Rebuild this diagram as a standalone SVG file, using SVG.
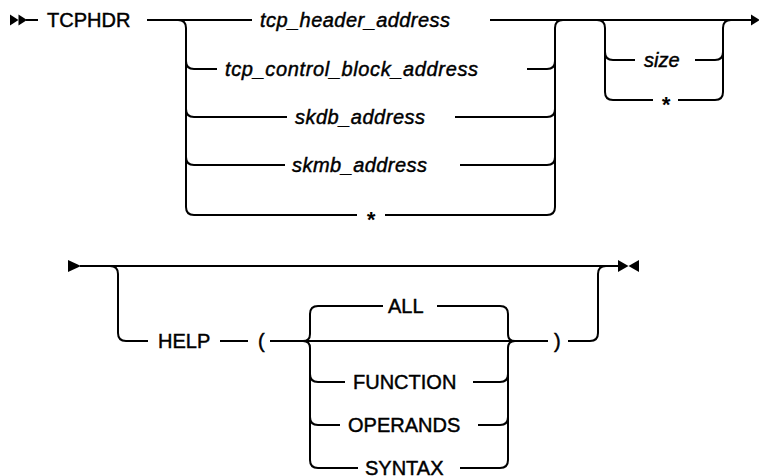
<svg xmlns="http://www.w3.org/2000/svg" width="759" height="476" viewBox="0 0 759 476">
<style>
  .ln { fill: none; stroke: #000; stroke-width: 2; }
  .mk { fill: #000; stroke: none; }
  text { font-family: "Liberation Sans", Arial, sans-serif; font-size: 20px; fill: #000; stroke: #000; stroke-width: 0.45; }
  .var { font-style: italic; }
  .star { font-size: 22px; font-weight: bold; stroke-width: 0; }
</style>
<rect width="759" height="476" fill="#fff"/>
<g id="connectors">
  <!-- top diagram -->
  <polygon class="mk" points="10,14.5 18.5,20 10,25.5"/>
  <polygon class="mk" points="18.5,14.5 27,20 18.5,25.5"/>
  <path class="ln" d="M26 20 H38"/>
  <path class="ln" d="M147 20 H252 M490 20 H752"/>
  <!-- group 1 left -->
  <path class="ln" d="M178 20 Q186 20 186 28 V207 Q186 215 194 215 H357"/>
  <path class="ln" d="M186 61 Q186 69 194 69 H217"/>
  <path class="ln" d="M186 109 Q186 117 194 117 H287"/>
  <path class="ln" d="M186 157 Q186 165 194 165 H285"/>
  <!-- group 1 right -->
  <path class="ln" d="M385 215 H547 Q555 215 555 207 V28 Q555 20 563 20"/>
  <path class="ln" d="M527 69 H547 Q555 69 555 61"/>
  <path class="ln" d="M455 117 H547 Q555 117 555 109"/>
  <path class="ln" d="M460 165 H547 Q555 165 555 157"/>
  <!-- group 2 -->
  <path class="ln" d="M597 20 Q605 20 605 28 V92 Q605 100 613 100 H653"/>
  <path class="ln" d="M605 52 Q605 60 613 60 H635"/>
  <path class="ln" d="M678 100 H715 Q723 100 723 92 V28 Q723 20 731 20"/>
  <path class="ln" d="M695 60 H715 Q723 60 723 52"/>
  <polygon class="mk" points="751,14.5 760,20 751,25.5"/>

  <!-- bottom diagram -->
  <polygon class="mk" points="68,260 81,266 68,272"/>
  <path class="ln" d="M80 266 H618"/>
  <polygon class="mk" points="618,260 628.5,266 618,272"/>
  <polygon class="mk" points="639,260 628.5,266 639,272"/>
  <path class="ln" d="M110 266 Q118 266 118 274 V333 Q118 341 126 341 H148"/>
  <path class="ln" d="M220 341 H248"/>
  <path class="ln" d="M270 341 H548"/>
  <path class="ln" d="M568 341 H590 Q598 341 598 333 V274 Q598 266 606 266"/>
  <!-- inner left brace -->
  <path class="ln" d="M303 341 Q310 341 310 334 V314 Q310 306 318 306 H383"/>
  <path class="ln" d="M303 341 Q310 341 310 348 V460 Q310 468 318 468 H358"/>
  <path class="ln" d="M310 374 Q310 382 318 382 H345"/>
  <path class="ln" d="M310 417 Q310 425 318 425 H340"/>
  <!-- inner right brace -->
  <path class="ln" d="M437 306 H500 Q508 306 508 314 V334 Q508 341 515 341"/>
  <path class="ln" d="M515 341 Q508 341 508 348 V460 Q508 468 500 468 H460"/>
  <path class="ln" d="M473 382 H500 Q508 382 508 374"/>
  <path class="ln" d="M478 425 H500 Q508 425 508 417"/>
</g>
<g id="node-tcphdr"><text x="47" y="27">TCPHDR</text></g>
<g id="node-tcp-header-address"><text class="var" x="260" y="27" textLength="190">tcp_header_address</text></g>
<g id="node-tcp-control-block-address"><text class="var" x="225" y="76" textLength="253">tcp_control_block_address</text></g>
<g id="node-skdb-address"><text class="var" x="295" y="124" textLength="130">skdb_address</text></g>
<g id="node-skmb-address"><text class="var" x="292" y="172" textLength="135">skmb_address</text></g>
<g id="node-star1"><text class="var star" x="366" y="227">*</text></g>
<g id="node-size"><text class="var" x="644" y="67">size</text></g>
<g id="node-star2"><text class="var star" x="661" y="112">*</text></g>
<g id="node-help"><text x="158" y="348">HELP</text></g>
<g id="node-lparen"><text x="258" y="348">(</text></g>
<g id="node-all"><text x="388" y="313">ALL</text></g>
<g id="node-function"><text x="353" y="389">FUNCTION</text></g>
<g id="node-operands"><text x="348" y="432">OPERANDS</text></g>
<g id="node-syntax"><text x="365" y="475">SYNTAX</text></g>
<g id="node-rparen"><text x="554" y="348">)</text></g>
</svg>
